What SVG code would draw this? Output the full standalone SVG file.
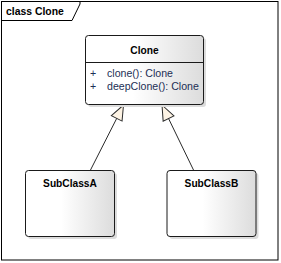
<svg xmlns="http://www.w3.org/2000/svg" width="281" height="263" viewBox="0 0 281 263">
  <style>
    .frame { fill: none; stroke: #000; stroke-width: 1; }
    .box { fill: url(#boxGrad); stroke: #1a1a1a; stroke-width: 1; }
    .shadow { fill: #dcdcdc; }
    .title { font-family: "Liberation Sans", Arial, sans-serif; font-size: 10.2px; font-weight: bold; fill: #000; }
    .member { font-family: "Liberation Sans", Arial, sans-serif; font-size: 10.6px; fill: #1c2f55; }
    .conn { stroke: #2a2a2a; stroke-width: 1; fill: none; marker-start: url(#gen); }
  </style>
  <defs>
    <linearGradient id="boxGrad" x1="0" y1="0" x2="1" y2="0">
      <stop offset="0" stop-color="#ffffff"/>
      <stop offset="0.4" stop-color="#ffffff"/>
      <stop offset="1" stop-color="#dcdcdc"/>
    </linearGradient>
    <marker id="gen" viewBox="0 0 17 14" refX="0.5" refY="7" markerWidth="17" markerHeight="14" markerUnits="userSpaceOnUse" orient="auto">
      <path d="M0.5,7 L15.5,1 L15.5,13 Z" fill="#fdf3e4" stroke="#2a2a2a" stroke-width="1"/>
    </marker>
  </defs>

  <rect x="0" y="0" width="281" height="263" fill="#ffffff"/>

  <g id="frame">
    <rect class="frame" x="1.5" y="1.5" width="276.5" height="258.5"/>
    <path class="frame" d="M1.5,20.5 H72 L80,4 V1.5"/>
    <text class="title" x="6" y="15" style="font-size:10.4px">class Clone</text>
  </g>

  <g id="connectors">
    <line class="conn" x1="123.5" y1="105" x2="90.5" y2="170"/>
    <line class="conn" x1="162" y1="105" x2="193.5" y2="170"/>
  </g>

  <g id="Clone">
    <rect class="shadow" x="88" y="38" width="118" height="69" rx="3"/>
    <rect class="box" x="85.5" y="35.5" width="118" height="69" rx="3"/>
    <line x1="85.5" y1="62.5" x2="203.5" y2="62.5" stroke="#1a1a1a" stroke-width="1"/>
    <text class="title" x="144.5" y="54" text-anchor="middle">Clone</text>
    <text class="member" x="90" y="77">+</text>
    <text class="member" x="107" y="77">clone(): Clone</text>
    <text class="member" x="90" y="90">+</text>
    <text class="member" x="107" y="90">deepClone(): Clone</text>
  </g>

  <g id="SubClassA">
    <rect class="shadow" x="28" y="173" width="89" height="66" rx="3"/>
    <rect class="box" x="25.5" y="170.5" width="89" height="66" rx="3"/>
    <text class="title" x="70" y="187" text-anchor="middle">SubClassA</text>
  </g>

  <g id="SubClassB">
    <rect class="shadow" x="169.5" y="173" width="89" height="66" rx="3"/>
    <rect class="box" x="167" y="170.5" width="89" height="66" rx="3"/>
    <text class="title" x="211.5" y="187" text-anchor="middle">SubClassB</text>
  </g>
</svg>
